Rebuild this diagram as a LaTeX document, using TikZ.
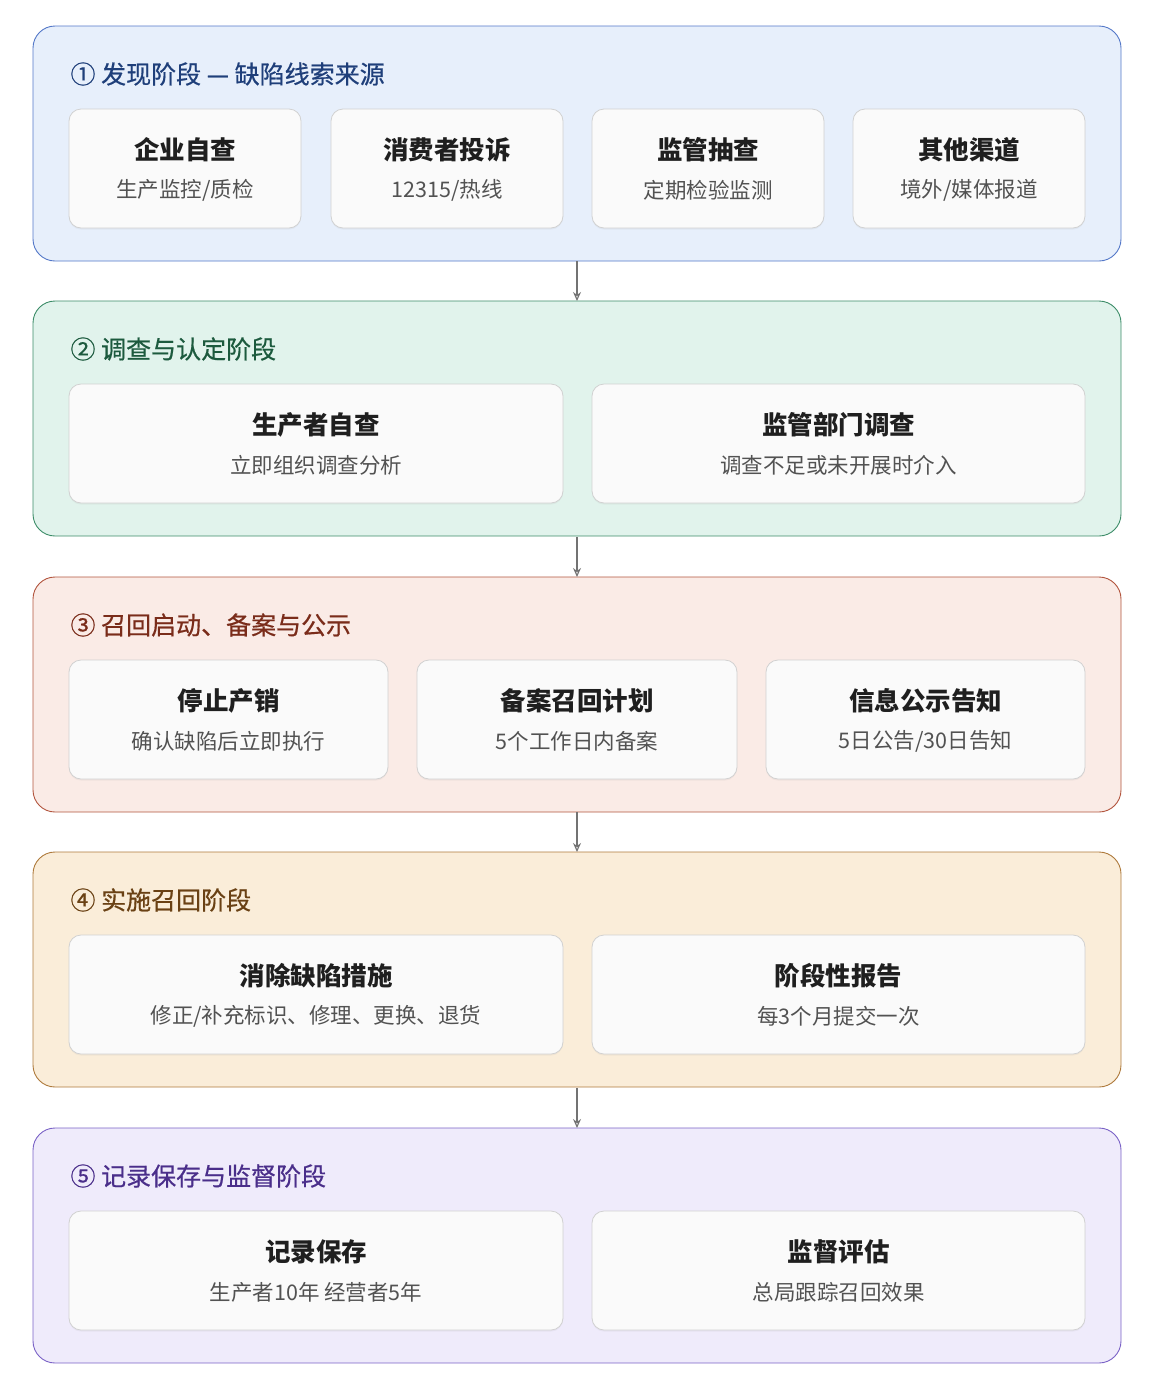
\documentclass[tikz,border=0pt]{standalone}
\usepackage{fontspec}
\setmainfont{Noto Sans CJK SC}
\newfontfamily\medf{Noto Sans CJK SC}[FakeBold=0.6]
\usetikzlibrary{arrows.meta,shadows}
\begin{document}
\begin{tikzpicture}[x=1pt,y=-1pt,
  stage/.style={draw=#1,line width=0.9pt,rounded corners=22pt},
  card/.style={draw=black!18,fill=black!2,line width=0.8pt,rounded corners=12pt,drop shadow={shadow xshift=0pt,shadow yshift=-1.5pt,opacity=0.08}},
  ttl/.style={anchor=west,font=\fontsize{25}{29}\medf},
  ct/.style={font=\fontsize{25.5}{29}\selectfont\bfseries,text=black!88},
  cs/.style={font=\fontsize{21.5}{25}\selectfont,text=black!68},
  arr/.style={-{Stealth[length=9pt,width=8pt,open]},draw=black!55,line width=1.1pt}]
\useasboundingbox (0,0) rectangle (1158,1390);
\definecolor{f1}{HTML}{E7EFFB}\definecolor{b1}{HTML}{5478C8}\definecolor{t1}{HTML}{1F3F7A}
\definecolor{f2}{HTML}{E1F3EC}\definecolor{b2}{HTML}{3C8C68}\definecolor{t2}{HTML}{1C5A3E}
\definecolor{f3}{HTML}{FAEBE6}\definecolor{b3}{HTML}{B2553E}\definecolor{t3}{HTML}{7A2C1A}
\definecolor{f4}{HTML}{FAEDD9}\definecolor{b4}{HTML}{AE7A3C}\definecolor{t4}{HTML}{6A4114}
\definecolor{f5}{HTML}{EFEBFB}\definecolor{b5}{HTML}{7A62C6}\definecolor{t5}{HTML}{4A2E8A}
\newcommand{\stg}[4]{% name, y, color idx, title
  \draw[stage=b#3,fill=f#3] (33,#2) rectangle (1121,#2+235) node[pos=0,inner sep=0] (#1) {};
  \node[ttl,text=t#3] (#1t) at (67,#2+48) {#4};}
\newcommand{\crd}[6]{% name, x1, x2, y, title, sub
  \draw[card] (#2,#4+83) rectangle (#3,#4+202);
  \node[ct] (#1a) at ({(#2+#3)/2},#4+124) {#5};
  \node[cs] (#1b) at ({(#2+#3)/2},#4+164) {#6};}
\stg{s1}{26}{1}{① 发现阶段 — 缺陷线索来源}
\crd{c11}{69}{301}{26}{企业自查}{生产监控/质检}
\crd{c12}{331}{563}{26}{消费者投诉}{12315/热线}
\crd{c13}{592}{824}{26}{监管抽查}{定期检验监测}
\crd{c14}{853}{1085}{26}{其他渠道}{境外/媒体报道}
\stg{s2}{301}{2}{② 调查与认定阶段}
\crd{c21}{69}{563}{301}{生产者自查}{立即组织调查分析}
\crd{c22}{592}{1085}{301}{监管部门调查}{调查不足或未开展时介入}
\stg{s3}{577}{3}{③ 召回启动、备案与公示}
\crd{c31}{69}{388}{577}{停止产销}{确认缺陷后立即执行}
\crd{c32}{417}{737}{577}{备案召回计划}{5个工作日内备案}
\crd{c33}{766}{1085}{577}{信息公示告知}{5日公告/30日告知}
\stg{s4}{852}{4}{④ 实施召回阶段}
\crd{c41}{69}{563}{852}{消除缺陷措施}{修正/补充标识、修理、更换、退货}
\crd{c42}{592}{1085}{852}{阶段性报告}{每3个月提交一次}
\stg{s5}{1128}{5}{⑤ 记录保存与监督阶段}
\crd{c51}{69}{563}{1128}{记录保存}{生产者10年 经营者5年}
\crd{c52}{592}{1085}{1128}{监督评估}{总局跟踪召回效果}
\coordinate (a1) at (577,261);\coordinate (a2) at (577,301);
\coordinate (b1) at (577,537);\coordinate (b2) at (577,577);
\coordinate (d1) at (577,812);\coordinate (d2) at (577,852);
\coordinate (e1) at (577,1088);\coordinate (e2) at (577,1128);
\draw[arr] (a1)--(a2); \draw[arr] (b1)--(b2); \draw[arr] (d1)--(d2); \draw[arr] (e1)--(e2);
\end{tikzpicture}
\end{document}
